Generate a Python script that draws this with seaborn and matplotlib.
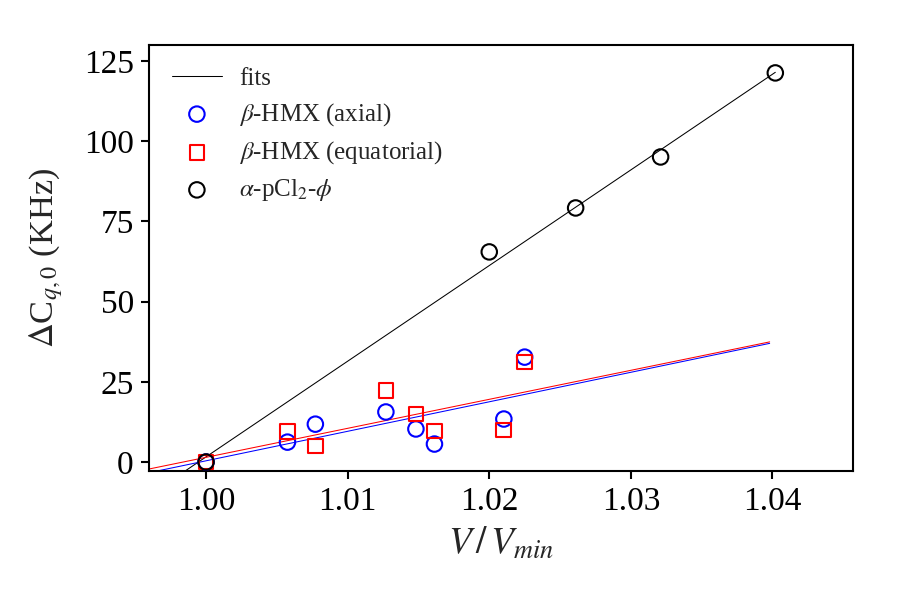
import numpy as np
import matplotlib
matplotlib.use("Agg")
import matplotlib.pyplot as plt
import seaborn as sns

# Data
x_hmx = [1.0, 1.00575, 1.00772, 1.0127, 1.01482, 1.01613, 1.02103, 1.0225]
y_axial = [0.0, 6.2, 11.8, 15.6, 10.3, 5.6, 13.4, 32.7]
y_equat = [0.0, 9.4, 5.0, 22.4, 15.0, 9.7, 10.0, 31.2]
x_pcl = [1.0, 1.0200, 1.0261, 1.0321, 1.0402]
y_pcl = [0.0, 65.5, 79.2, 95.1, 121.3]

labels = ["fits", r"$\beta$-HMX (axial)", r"$\beta$-HMX (equatorial)", r"$\alpha$-pCl$_2$-$\phi$"]
xticks = [1.00, 1.01, 1.02, 1.03, 1.04]
yticks = [0, 25, 50, 75, 100, 125]

sns.set_style("ticks")
plt.rcParams["font.family"] = ["Liberation Serif", "DejaVu Serif"]
plt.rcParams["mathtext.fontset"] = "stix"
plt.rcParams["xtick.direction"] = "out"
plt.rcParams["ytick.direction"] = "out"

fig = plt.figure(figsize=(6, 4), dpi=150)
ax = fig.add_axes([0.166, 0.215, 0.782, 0.71])

xfit = np.array([0.99, 1.0398])
cb = np.polyfit(x_hmx, y_axial, 1)
cr = np.polyfit(x_hmx, y_equat, 1)
ck = np.polyfit(x_pcl, y_pcl, 1)
xfit_k = np.array([0.99, 1.0402])
sns.lineplot(x=xfit_k, y=np.polyval(ck, xfit_k), color="black", lw=0.5, ax=ax, label=labels[0])
sns.lineplot(x=xfit, y=np.polyval(cb, xfit), color="blue", lw=0.5, ax=ax)
sns.lineplot(x=xfit, y=np.polyval(cr, xfit), color="red", lw=0.5, ax=ax)

sns.scatterplot(x=x_hmx, y=y_axial, marker="o", s=55, color="blue", facecolor="none",
                edgecolor="blue", linewidth=1.0, ax=ax, label=labels[1], zorder=3)
sns.scatterplot(x=x_hmx, y=y_equat, marker="s", s=50, color="red", facecolor="none",
                edgecolor="red", linewidth=1.0, ax=ax, label=labels[2], zorder=3)
sns.scatterplot(x=x_pcl, y=y_pcl, marker="o", s=55, color="black", facecolor="none",
                edgecolor="black", linewidth=1.0, ax=ax, label=labels[3], zorder=3)

ax.set_xlim(0.996, 1.0457)
ax.set_ylim(-2.8, 130)
ax.set_xticks(xticks)
ax.set_xticklabels([f"{t:.2f}" for t in xticks])
ax.set_yticks(yticks)
ax.tick_params(labelsize=16, width=1, length=4, colors="black")
for s in ax.spines.values():
    s.set_linewidth(1.0)
    s.set_color("black")
ax.set_xlabel(r"$V\,/\,V_{min}$", fontsize=18)
ax.set_ylabel(r"$\Delta$C$_{q,0}$ (KHz)", fontsize=16.5, labelpad=9)
ax.legend(loc="upper left", frameon=False, fontsize=12, handlelength=2.0,
          handletextpad=0.7, labelspacing=0.45, borderaxespad=0.5)

fig.savefig("out.png", dpi=150)
